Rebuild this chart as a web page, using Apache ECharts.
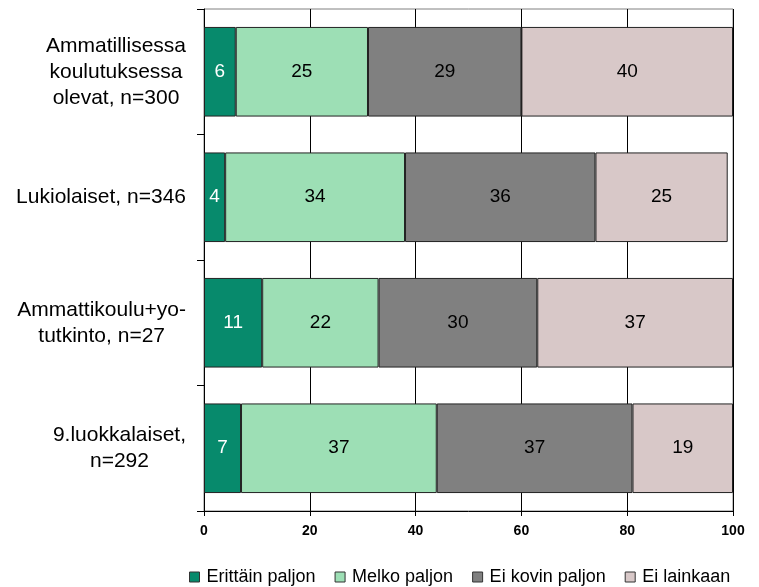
<!DOCTYPE html>
<html>
<head>
<meta charset="utf-8">
<script src="https://cdn.jsdelivr.net/npm/echarts@6/dist/echarts.min.js"></script>
<style>html,body{margin:0;padding:0;background:#fff}#c{width:759px;height:587px}</style>
</head>
<body>
<div id="c"></div>
<script>
var categories = [
  ['Ammatillisessa', 'koulutuksessa', 'olevat, n=300'],
  ['Lukiolaiset, n=346'],
  ['Ammattikoulu+yo-', 'tutkinto, n=27'],
  ['9.luokkalaiset,', 'n=292']
];
var seriesNames = ['Erittäin paljon', 'Melko paljon', 'Ei kovin paljon', 'Ei lainkaan'];
var erittainPaljon = [6, 4, 11, 7];
var melkoPaljon = [25, 34, 22, 37];
var eiKovinPaljon = [29, 36, 30, 37];
var eiLainkaan = [40, 25, 37, 19];
var xTicks = [0, 20, 40, 60, 80, 100];

var colors = ['#078A6C', '#9DDFB5', '#808080', '#D8C8C8'];
var labelColors = ['#ffffff', '#000000', '#000000', '#000000'];
var values = [erittainPaljon, melkoPaljon, eiKovinPaljon, eiLainkaan];
var FONT = 'Arial, "Liberation Sans", sans-serif';

var catKeys = categories.map(function (c) { return c.join(' '); });

var series = seriesNames.map(function (name, i) {
  return {
    name: name,
    type: 'bar',
    stack: 'total',
    barCategoryGap: '28.6%',
    data: values[i],
    itemStyle: { color: colors[i], borderColor: '#222', borderWidth: 1 },
    label: {
      show: true,
      position: 'inside',
      color: labelColors[i],
      fontFamily: FONT,
      fontSize: 19
    },
    emphasis: { disabled: true }
  };
});

var chart = echarts.init(document.getElementById('c'), null, { renderer: 'canvas' });
chart.setOption({
  animation: false,
  backgroundColor: '#ffffff',
  grid: {
    left: 204, right: 26, top: 9, bottom: 76,
    show: true, borderColor: '#808080', borderWidth: 1, backgroundColor: 'transparent'
  },
  legend: {
    data: seriesNames,
    left: 184,
    top: 563,
    icon: 'rect',
    itemWidth: 10,
    itemHeight: 10,
    itemGap: 19,
    itemStyle: { borderColor: '#333', borderWidth: 1 },
    textStyle: { fontFamily: FONT, fontSize: 18, color: '#000', padding: [0, 0, 0, 2] }
  },
  xAxis: {
    type: 'value',
    min: xTicks[0],
    max: xTicks[xTicks.length - 1],
    interval: xTicks[1] - xTicks[0],
    axisLine: { show: true, lineStyle: { color: '#000', width: 1 } },
    axisTick: { show: true, length: 5, lineStyle: { color: '#000' } },
    splitLine: { show: true, lineStyle: { color: '#000', width: 1 } },
    axisLabel: { margin: 13, fontFamily: FONT, fontSize: 14, fontWeight: 'bold', color: '#000' }
  },
  yAxis: {
    type: 'category',
    inverse: true,
    data: catKeys,
    axisLine: { show: true, lineStyle: { color: '#000', width: 1 } },
    axisTick: { show: true, length: 7, lineStyle: { color: '#000' } },
    axisLabel: {
      margin: 18,
      interval: 0,
      align: 'right',
      formatter: function (v, idx) {
        return categories[idx].map(function (l) { return '{a|' + l + '}'; }).join('\n');
      },
      rich: {
        a: { fontFamily: FONT, fontSize: 21, color: '#000', align: 'center', lineHeight: 26 }
      }
    }
  },
  series: series
});
</script>
</body>
</html>
